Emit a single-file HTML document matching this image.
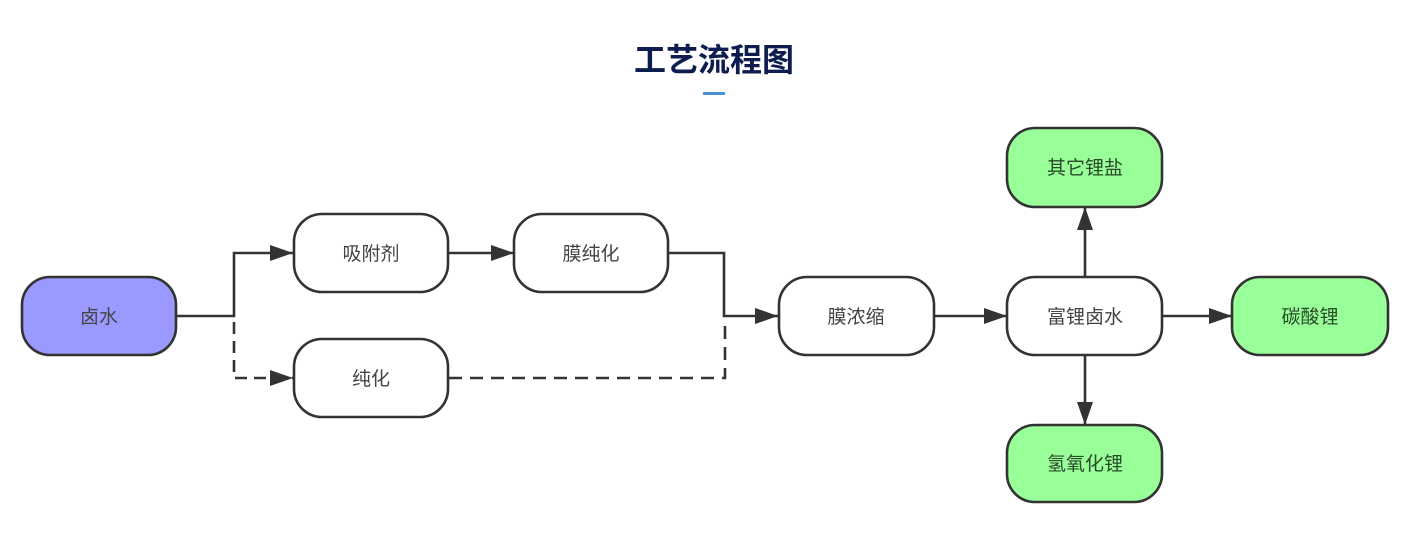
<!DOCTYPE html>
<html><head><meta charset="utf-8"><style>
html,body{margin:0;padding:0;background:#fff;}
body{width:1404px;height:542px;overflow:hidden;}
svg{display:block;}
</style></head><body>
<svg width="1404" height="542" viewBox="0 0 1404 542" xmlns="http://www.w3.org/2000/svg">
<defs>
<marker id="ah" markerWidth="24" markerHeight="16" refX="23" refY="8" orient="auto" markerUnits="userSpaceOnUse">
<path d="M0,0 L23,8 L0,16 Z" fill="#333"/>
</marker>
</defs>
<text x="714" y="71" text-anchor="middle" font-family="'Liberation Sans','Noto Sans CJK SC',sans-serif" font-size="32" font-weight="bold" fill="#0d1d4f">工艺流程图</text>
<rect x="703" y="92" width="22" height="3" fill="#4a90d9"/>

<g fill="none" stroke="#333" stroke-width="2.6">
<!-- solid -->
<polyline points="176,316 234,316 234,253 293,253" marker-end="url(#ah)"/>
<polyline points="449,253 514,253" marker-end="url(#ah)"/>
<polyline points="668,253 724,253 724,316 778,316" marker-end="url(#ah)"/>
<polyline points="935,316 1007,316" marker-end="url(#ah)"/>
<polyline points="1085,277 1085,207" marker-end="url(#ah)"/>
<polyline points="1085,355 1085,425" marker-end="url(#ah)"/>
<polyline points="1162,316 1232,316" marker-end="url(#ah)"/>
<!-- dashed -->
<polyline points="234,322 234,378 293,378" stroke-dasharray="12,7" marker-end="url(#ah)"/>
<polyline points="449,378 725,378 725,320" stroke-dasharray="13,8"/>
</g>

<g stroke="#333" stroke-width="2.6" font-family="'Liberation Sans','Noto Sans CJK SC',sans-serif" font-size="19" text-anchor="middle">
<rect x="22" y="277" width="154" height="78" rx="28" fill="#9999ff"/>
<rect x="294" y="214" width="154" height="78" rx="28" fill="#fff"/>
<rect x="294" y="339" width="154" height="78" rx="28" fill="#fff"/>
<rect x="514" y="214" width="154" height="78" rx="28" fill="#fff"/>
<rect x="779" y="277" width="155" height="78" rx="28" fill="#fff"/>
<rect x="1007" y="277" width="155" height="78" rx="28" fill="#fff"/>
<rect x="1007" y="128" width="155" height="79" rx="28" fill="#99ff99"/>
<rect x="1007" y="425" width="155" height="77" rx="28" fill="#99ff99"/>
<rect x="1232" y="277" width="156" height="78" rx="28" fill="#99ff99"/>
</g>
<g font-family="'Liberation Sans','Noto Sans CJK SC',sans-serif" font-size="19" text-anchor="middle" fill="#444">
<text x="99" y="323">卤水</text>
<text x="371" y="260">吸附剂</text>
<text x="371" y="385">纯化</text>
<text x="591" y="260">膜纯化</text>
<text x="856" y="323">膜浓缩</text>
<text x="1085" y="323">富锂卤水</text>
<text x="1085" y="174" fill="#2a4a2a">其它锂盐</text>
<text x="1085" y="470" fill="#2a4a2a">氢氧化锂</text>
<text x="1310" y="323" fill="#2a4a2a">碳酸锂</text>
</g>
</svg>
</body></html>
